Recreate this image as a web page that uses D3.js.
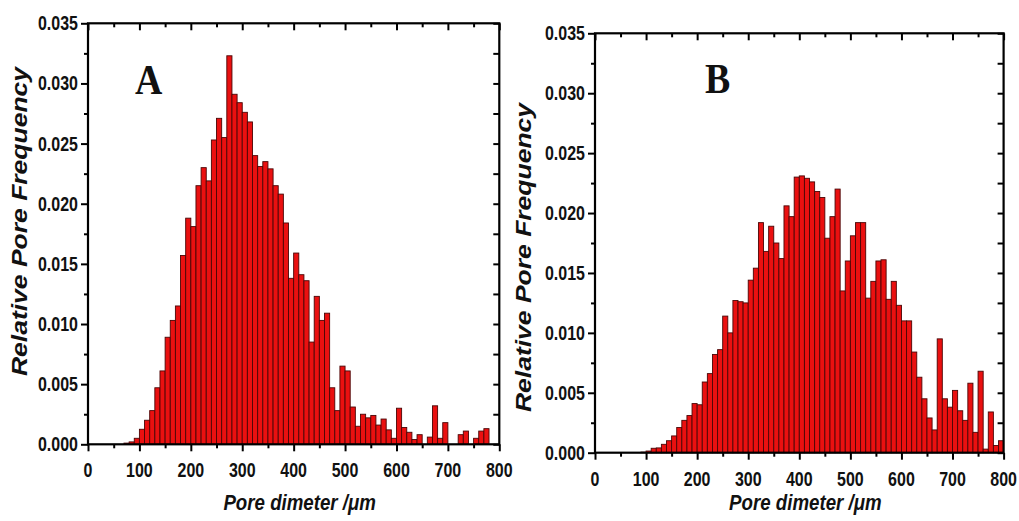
<!DOCTYPE html>
<html>
<head>
<meta charset="utf-8">
<script src="https://cdn.jsdelivr.net/npm/d3@7"></script>
<style>
  html, body { margin: 0; padding: 0; background: #fff; }
  svg { display: block; }
</style>
</head>
<body>
<svg id="chart" width="1019" height="521"></svg>
<script>
// Pore-size histograms: bins of 10 µm from 0 to 800 µm
const binWidth = 10;
const binStarts = d3.range(0, 800, binWidth);

// Relative pore frequency per bin, sample A
const freqA = [
  0, 0, 0, 0, 0, 0, 0, 0.0001, 0.0002, 0.0005,
  0.00125, 0.0020, 0.0028, 0.0047, 0.0061, 0.0089, 0.0103, 0.0115, 0.0157, 0.0188,
  0.0181, 0.0215, 0.0230, 0.0219, 0.0253, 0.0271, 0.0255, 0.0323, 0.0291, 0.0284,
  0.0276, 0.0268, 0.0240, 0.0231, 0.0235, 0.0229, 0.0215, 0.0208, 0.0184, 0.0138,
  0.0159, 0.0141, 0.0136, 0.0085, 0.0123, 0.0103, 0.0109, 0.0047, 0.0028, 0.0065,
  0.0061, 0.0031, 0.0015, 0.0025, 0.0022, 0.0024, 0.0016, 0.0021, 0.0012, 0.0005,
  0.0030, 0.0014, 0.0010, 0.0004, 0.0008, 0, 0.0006, 0.0032, 0.0005, 0.0018,
  0, 0, 0.0008, 0.0011, 0, 0.0005, 0.0011, 0.0013, 0, 0
];

// Relative pore frequency per bin, sample B
const freqB = [
  0, 0, 0, 0, 0, 0, 0, 0, 0, 0.00005,
  0.00014, 0.00037, 0.0004, 0.0007, 0.0010, 0.0014, 0.0021, 0.0027, 0.0031, 0.0041,
  0.0040, 0.0059, 0.0066, 0.0082, 0.0086, 0.0114, 0.0100, 0.0127, 0.0126, 0.0125,
  0.0144, 0.0154, 0.0192, 0.0168, 0.0189, 0.0175, 0.0162, 0.0206, 0.0197, 0.0230,
  0.0231, 0.0229, 0.0226, 0.0218, 0.0213, 0.0179, 0.0197, 0.0220, 0.0135, 0.0160,
  0.0181, 0.0192, 0.0192, 0.0129, 0.0143, 0.0160, 0.0161, 0.0128, 0.0143, 0.0123,
  0.0110, 0.0110, 0.0084, 0.0063, 0.0045, 0.0029, 0.0019, 0.0095, 0.0045, 0.0038,
  0.0052, 0.0035, 0.0027, 0.0058, 0.0017, 0.0068, 0.0003, 0.0034, 0.0006, 0.0010
];

const xTicks = [0, 100, 200, 300, 400, 500, 600, 700, 800];
const xMinor = [50, 150, 250, 350, 450, 550, 650, 750];
const yTicks = [0, 0.005, 0.010, 0.015, 0.020, 0.025, 0.030, 0.035];
const yMinor = [0.0025, 0.0075, 0.0125, 0.0175, 0.0225, 0.0275, 0.0325];

const xTitle = "Pore dimeter /\u03BCm";
const yTitle = "Relative Pore Frequency";

const panels = [
  { letter: "A", data: freqA, left: 88, right: 499.3, top: 23.3, bottom: 444.3,
    letterX: 135, letterY: 94.3, yTitleX: 27, yTitleY: 221.5, xTitleY: 509.5 },
  { letter: "B", data: freqB, left: 595, right: 1003.6, top: 33.3, bottom: 452.7,
    letterX: 705, letterY: 93.3, yTitleX: 531, yTitleY: 257.5, xTitleY: 510 }
];

const svg = d3.select("#chart");
const sans = "'Liberation Sans', Arial, Helvetica, sans-serif";
const serif = "'Liberation Serif', 'Times New Roman', Times, serif";
const squeeze = 0.82; // horizontal squeeze applied to all lettering

function addText(g, x, y, txt, o) {
  return g.append("text")
    .attr("transform", `translate(${x},${y}) scale(${o.kx ?? squeeze},1)` + (o.rotate ? " rotate(-90)" : ""))
    .attr("text-anchor", o.anchor || "start")
    .attr("font-family", o.family || sans)
    .attr("font-size", o.size)
    .attr("font-weight", "bold")
    .attr("font-style", o.italic ? "italic" : "normal")
    .attr("fill", "#111")
    .text(txt);
}

panels.forEach(p => {
  const g = svg.append("g");
  const x = d3.scaleLinear().domain([0, 800]).range([p.left, p.right]);
  const y = d3.scaleLinear().domain([0, 0.035]).range([p.bottom, p.top]);

  // histogram bars
  g.append("g").selectAll("rect")
    .data(binStarts.map((s, i) => ({ s, v: p.data[i] })).filter(d => d.v > 0))
    .join("rect")
      .attr("x", d => x(d.s))
      .attr("width", d => x(d.s + binWidth) - x(d.s))
      .attr("y", d => y(d.v))
      .attr("height", d => y(0) - y(d.v))
      .attr("fill", "#ea1010")
      .attr("stroke", "#4a0606")
      .attr("stroke-width", 0.9);

  const tickStyle = sel => sel.selectAll("line").attr("stroke", "#000").attr("stroke-width", 2);

  // bottom axis (outward ticks)
  const bottomMajor = g.append("g").attr("transform", `translate(0,${p.bottom})`)
    .call(d3.axisBottom(x).tickValues(xTicks).tickSize(7).tickFormat(""));
  const bottomMinor = g.append("g").attr("transform", `translate(0,${p.bottom})`)
    .call(d3.axisBottom(x).tickValues(xMinor).tickSize(4).tickFormat(""));
  // left axis (outward ticks)
  const leftMajor = g.append("g").attr("transform", `translate(${p.left},0)`)
    .call(d3.axisLeft(y).tickValues(yTicks).tickSize(7).tickFormat(""));
  const leftMinor = g.append("g").attr("transform", `translate(${p.left},0)`)
    .call(d3.axisLeft(y).tickValues(yMinor).tickSize(4).tickFormat(""));
  // top axis (inward ticks)
  const topMajor = g.append("g").attr("transform", `translate(0,${p.top})`)
    .call(d3.axisBottom(x).tickValues(xTicks).tickSize(7).tickFormat(""));
  const topMinor = g.append("g").attr("transform", `translate(0,${p.top})`)
    .call(d3.axisBottom(x).tickValues(xMinor).tickSize(4).tickFormat(""));
  // right axis (inward ticks)
  const rightMajor = g.append("g").attr("transform", `translate(${p.right},0)`)
    .call(d3.axisLeft(y).tickValues(yTicks).tickSize(6).tickFormat(""));
  const rightMinor = g.append("g").attr("transform", `translate(${p.right},0)`)
    .call(d3.axisLeft(y).tickValues(yMinor).tickSize(6).tickFormat(""));

  [bottomMajor, bottomMinor, leftMajor, leftMinor, topMajor, topMinor, rightMajor, rightMinor]
    .forEach(a => { a.select(".domain").remove(); tickStyle(a); });

  // frame
  g.append("rect")
    .attr("x", p.left).attr("y", p.top)
    .attr("width", p.right - p.left).attr("height", p.bottom - p.top)
    .attr("fill", "none").attr("stroke", "#000").attr("stroke-width", 2.2);

  // tick labels
  xTicks.forEach(t => addText(g, x(t), p.bottom + 33, String(t), { size: 19.5, anchor: "middle" }));
  const fmt = d3.format(".3f");
  yTicks.forEach(t => addText(g, p.left - 10, y(t) + 7, fmt(t), { size: 19.5, anchor: "end" }));

  // axis titles
  addText(g, (p.left + p.right) / 2 + 6, p.xTitleY, xTitle, { size: 22, anchor: "middle", italic: true, kx: 0.85 });
  addText(g, p.yTitleX, p.yTitleY, yTitle, { size: 26.5, anchor: "middle", italic: true, rotate: true, kx: 0.82 });

  // panel letter
  addText(g, p.letterX, p.letterY, p.letter, { size: 43, family: serif, kx: 0.88 });
});
</script>
</body>
</html>
